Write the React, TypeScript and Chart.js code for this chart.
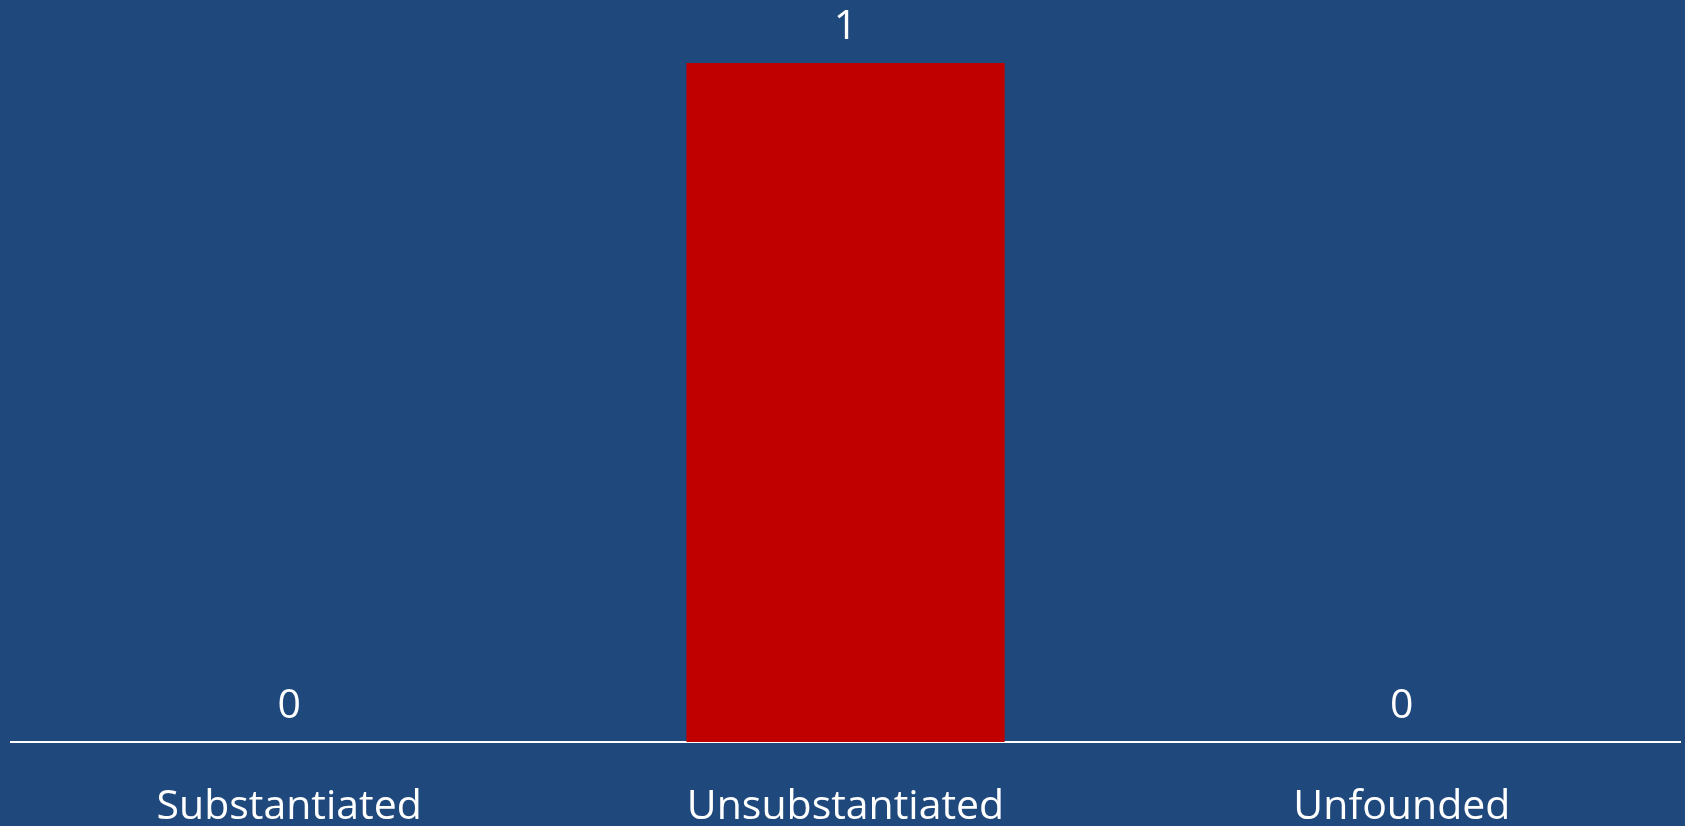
import React, { useEffect, useRef } from "react";
import { Chart, registerables } from "chart.js";

Chart.register(...registerables);

const categories = ["Substantiated", "Unsubstantiated", "Unfounded"];
const counts = [0, 1, 0];
const barColors = ["#C00000", "#C00000", "#C00000"];

const FONT = "'Open Sans', 'Noto Sans', sans-serif";

const valueLabels = {
  id: "valueLabels",
  afterDatasetsDraw(chart: any) {
    const ctx = chart.ctx;
    const meta = chart.getDatasetMeta(0);
    ctx.save();
    ctx.fillStyle = "#FFFFFF";
    ctx.font = `41px ${FONT}`;
    ctx.textAlign = "center";
    ctx.textBaseline = "alphabetic";
    meta.data.forEach((el: any, i: number) => {
      ctx.fillText(String(counts[i]), el.x, el.y - 24);
    });
    ctx.restore();
  },
};

export default function App() {
  const ref = useRef<HTMLCanvasElement>(null);
  useEffect(() => {
    document.body.style.margin = "0";
    document.body.style.background = "#1F497D";
    const chart = new Chart(ref.current!, {
      type: "bar",
      data: {
        labels: categories,
        datasets: [
          {
            data: counts,
            backgroundColor: barColors,
            borderWidth: 0,
            categoryPercentage: 1,
            barPercentage: 0.572,
          },
        ],
      },
      options: {
        animation: false,
        responsive: false,
        layout: { padding: { left: 11, right: 5, top: 63, bottom: 0 } },
        plugins: { legend: { display: false }, tooltip: { enabled: false } },
        scales: {
          x: {
            grid: { display: false, drawTicks: false },
            border: { display: true, color: "#FFFFFF", width: 2 },
            ticks: {
              color: "#FFFFFF",
              font: { family: FONT, size: 41, lineHeight: 1.2 },
              padding: 41,
              maxRotation: 0,
            },
            afterFit: (scale: any) => {
              scale.height = 84;
            },
          },
          y: { display: false, min: 0, max: 1 },
        },
      },
      plugins: [valueLabels],
    });
    return () => chart.destroy();
  }, []);
  return (
    <div style={{ width: 1685, height: 826, background: "#1F497D" }}>
      <canvas ref={ref} width={1685} height={826} style={{ display: "block" }} />
    </div>
  );
}
